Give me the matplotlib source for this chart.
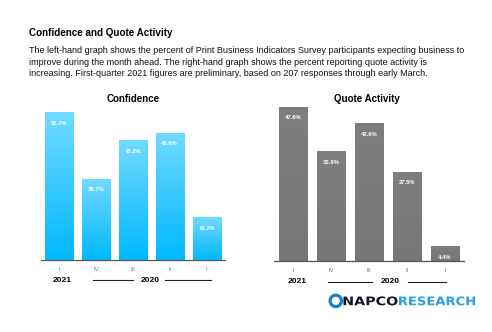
import numpy as np
import matplotlib
matplotlib.use("Agg")
import matplotlib.pyplot as plt
from matplotlib.colors import LinearSegmentedColormap
from matplotlib.textpath import TextPath
from matplotlib.font_manager import FontProperties
from matplotlib.patches import PathPatch, Circle
from matplotlib.transforms import Affine2D

plt.rcParams['font.family'] = ['Liberation Sans', 'DejaVu Sans']

quarters = ["I", "IV", "III", "II", "I"]
confidence = [55.7, 30.7, 45.2, 48.0, 16.2]
quote_activity = [47.6, 33.9, 42.6, 27.5, 4.4]
year_labels = ["2021", "2020"]

title = "Confidence and Quote Activity"
body = ("The left-hand graph shows the percent of Print Business Indicators Survey participants expecting business to\n"
        "improve during the month ahead. The right-hand graph shows the percent reporting quote activity is\n"
        "increasing. First-quarter 2021 figures are preliminary, based on 207 responses through early March.")

W, H = 492, 332
fig = plt.figure(figsize=(W / 100, H / 100), dpi=100)
fig.patch.set_facecolor("white")


def fx(px):
    return px / W


def fy(py):
    return 1 - py / H


fig.text(fx(29), fy(33.5), title, fontsize=7.1, fontweight="bold", va="center", ha="left")
fig.text(fx(29), fy(46.3), body, fontsize=6.5, va="top", ha="left", linespacing=1.33, color="#111111")


def gradient_bars(ax, values, top_color, bottom_color, edge_light):
    cmap = LinearSegmentedColormap.from_list("g", [bottom_color, top_color])
    bars = ax.bar(range(len(values)), values, width=0.76, color=bottom_color, edgecolor=edge_light,
                  linewidth=0.4, zorder=2)
    grad = np.linspace(0, 1, 64).reshape(-1, 1)
    for b in bars:
        x0, y0 = b.get_x(), b.get_y()
        im = ax.imshow(grad, extent=(x0, x0 + b.get_width(), y0, y0 + b.get_height()),
                       origin="lower", cmap=cmap, aspect="auto", zorder=2.5)
        im.set_clip_path(b)
    return bars


def panel(rect, values, ymax, top_color, bottom_color, edge_light):
    ax = fig.add_axes(rect)
    gradient_bars(ax, values, top_color, bottom_color, edge_light)
    ax.set_xlim(-0.5, len(values) - 0.5)
    ax.set_ylim(0, ymax)
    for s in ["top", "right", "left"]:
        ax.spines[s].set_visible(False)
    ax.spines["bottom"].set_color("#555555")
    ax.spines["bottom"].set_linewidth(0.9)
    ax.set_yticks([])
    ax.set_xticks(range(len(values)))
    ax.set_xticklabels(quarters, fontsize=4.2, color="#777777")
    ax.tick_params(axis="x", length=0, pad=5)
    for i, v in enumerate(values):
        ax.annotate(f"{v:.1f}%", (i, v), xytext=(0, -8), textcoords="offset points",
                    ha="center", va="center", fontsize=4.2, color="white", fontweight="bold", zorder=4)
    return ax


# left panel: baseline at y=260px, spans x 40.7..225px
axl = panel([fx(40.7), 72 / H, (225 - 40.7) / W, 160 / H], confidence, 160 / 2.652,
            "#72d9ff", "#00b9ff", "#9fe4ff")
axr = panel([fx(274), 71.3 / H, (464 - 274) / W, 160 / H], quote_activity, 160 / 3.235,
            "#7e7e7e", "#777777", "#a0a0a0")

fig.text(fx(132.7), fy(99.5), "Confidence", fontsize=7.0, fontweight="bold", ha="center", va="center")
fig.text(fx(366.7), fy(99.5), "Quote Activity", fontsize=7.0, fontweight="bold", ha="center", va="center")

# overlay axes in pixel units (y measured upward from the bottom)
ov = fig.add_axes([0, 0, 1, 1])
ov.set_xlim(0, W)
ov.set_ylim(0, H)
ov.axis("off")


def years(x2021, x2020, y, l1, l2):
    ov.text(x2021, H - y, year_labels[0], fontsize=6, fontweight="bold", ha="center", va="center")
    ov.text(x2020, H - y, year_labels[1], fontsize=6, fontweight="bold", ha="center", va="center")
    for a, b in (l1, l2):
        ov.plot([a, b], [H - y, H - y], color="#222222", lw=0.8)


years(61.7, 150, 280, (92.7, 133), (165, 211))
years(297.3, 390, 281.5, (328, 371.7), (408, 446))


def fitted_word(word, x0, x1, ytop, ybot, color, weight):
    tp = TextPath((0, 0), word, size=10, prop=FontProperties(family="DejaVu Sans", weight=weight))
    ext = tp.get_extents()
    sx = (x1 - x0) / ext.width
    sy = (ybot - ytop) / ext.height
    tr = Affine2D().translate(-ext.x0, -ext.y0).scale(sx, sy).translate(x0, H - ybot)
    ov.add_patch(PathPatch(tr.transform_path(tp), facecolor=color, edgecolor="none"))


# logo
ov.add_patch(Circle((335.8, H - 300.9), 5.7, fill=False, edgecolor="#1c83c6", linewidth=2.3))
fitted_word("NAPCO", 343.5, 397.5, 296.4, 305.4, "#0e1620", "heavy")
fitted_word("RESEARCH", 399, 475, 296.4, 305.4, "#2aa0e0", "bold")

fig.savefig("out.png", dpi=100, facecolor="white")
